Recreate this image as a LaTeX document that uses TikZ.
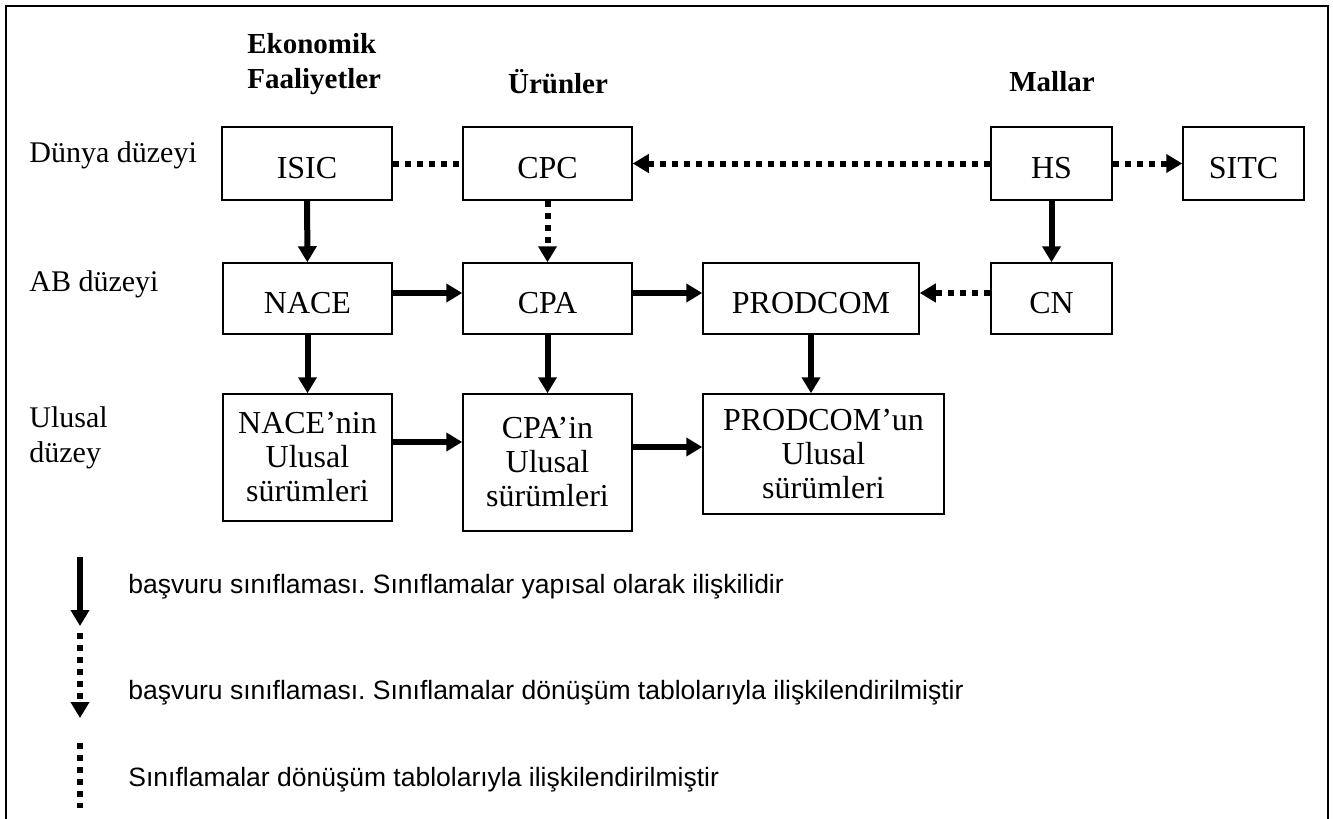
\documentclass[tikz,border=0pt]{standalone}
\usepackage{fontspec}
\setmainfont{Liberation Serif}
\setsansfont{Liberation Sans}
\usetikzlibrary{arrows.meta}

\tikzset{
  cls/.style={draw, line width=0.75pt, inner sep=0pt, align=center,
    font=\fontsize{16}{17}\selectfont},
  one/.style={cls, text height=14.6pt, text depth=0pt},
  lvl/.style={anchor=west, inner sep=0pt, align=left, font=\fontsize{15}{17.5}\selectfont},
  head/.style={inner sep=0pt, align=left, font=\fontsize{14.5}{17.5}\selectfont\bfseries},
  note/.style={anchor=west, inner sep=0pt, font=\sffamily\frenchspacing\fontsize{13.25}{15}\selectfont},
  ref/.style={line width=3pt, -{Triangle[width=9pt,length=8pt]}},
  conv/.style={line width=3pt, dash pattern=on 3pt off 3pt},
  convref/.style={conv, -{Triangle[width=9pt,length=8pt]}},
}

\begin{document}
\begin{tikzpicture}[x=0.5pt, y=-0.5pt]
      \useasboundingbox (0,0) rectangle (1333,819);
      \draw[line width=1pt] (6,819) -- (6,6) -- (1328,6) -- (1328,819);
      % column and row titles
      \draw
        (247,64) node[head, anchor=west] (heco){Ekonomik\\Faaliyetler}
        (558,82) node[head] (hprod){Ürünler}
        (1052,82) node[head] (hgoods){Mallar}
        (29,155) node[lvl] (lworld){Dünya düzeyi}
        (29,284) node[lvl] (leu){AB düzeyi}
        (29,438) node[lvl] (lnat){Ulusal\\düzey};
      % classifications
      \draw
        (307,163.5) node[one, minimum width=85pt, minimum height=36.5pt] (isic){ISIC}
        (547.5,163.5) node[one, minimum width=84.5pt, minimum height=36.5pt] (cpc){CPC}
        (1051.5,163.5) node[one, minimum width=60.5pt, minimum height=36.5pt] (hs){HS}
        (1243.5,163.5) node[one, minimum width=60.5pt, minimum height=36.5pt] (sitc){SITC}
        (307.5,298.5) node[one, minimum width=84.5pt, minimum height=35.5pt] (nace){NACE}
        (547.5,298.5) node[one, minimum width=84.5pt, minimum height=35.5pt] (cpa){CPA}
        (811,298.5) node[one, minimum width=108pt, minimum height=35.5pt] (prodcom){PRODCOM}
        (1051.5,298.5) node[one, minimum width=60.5pt, minimum height=35.5pt] (cn){CN}
        (307.5,457.5) node[cls, minimum width=84.5pt, minimum height=63.5pt] (nacenat){NACE’nin\\Ulusal\\sürümleri}
        (547.5,462.5) node[cls, minimum width=84.5pt, minimum height=68.5pt] (cpanat){CPA’in\\Ulusal\\sürümleri}
        (823.5,454) node[cls, minimum width=120.5pt, minimum height=60pt] (prodnat){PRODCOM’un\\Ulusal\\sürümleri};
      \begin{scope}[ref]
        \draw (isic) to (nace);
        \draw (hs) to (cn);
        \draw (nace) to (nacenat);
        \draw (cpa) to (cpanat);
        \draw (prodcom) to (prodcom.south |- prodnat.north);
        \draw ([yshift=2.75pt]nace.east) to ([yshift=2.75pt]nace.east -| cpa.west);
        \draw ([yshift=2.75pt]cpa.east) to ([yshift=2.75pt]cpa.east -| prodcom.west);
        \draw ([yshift=7.75pt]nacenat.east) to ([yshift=7.75pt]nacenat.east -| cpanat.west);
        \draw ([yshift=7.75pt]cpanat.east) to ([yshift=7.75pt]cpanat.east -| prodnat.west);
      \end{scope}
      \draw[conv] (isic) to (cpc);
      \begin{scope}[convref]
        \draw (hs) to (cpc);
        \draw (hs) to (sitc);
        \draw (cpc) to (cpa);
        \draw ([yshift=2.75pt]cn.west) to ([yshift=2.75pt]cn.west -| prodcom.east);
      \end{scope}
      % legend
      \coordinate (k1a) at (80,557);
      \coordinate (k1b) at (80,626);
      \coordinate (k2a) at (80,633);
      \coordinate (k2b) at (80,718);
      \coordinate (k3a) at (80,743);
      \coordinate (k3b) at (80,808);
      \draw[ref] (k1a) to (k1b);
      \draw[convref] (k2a) to (k2b);
      \draw[conv] (k3a) to (k3b);
      \draw
        (128,587) node[note] (n1){başvuru sınıflaması. Sınıflamalar yapısal olarak ilişkilidir}
        (128,693) node[note] (n2){başvuru sınıflaması. Sınıflamalar dönüşüm tablolarıyla ilişkilendirilmiştir}
        (128,780) node[note] (n3){Sınıflamalar dönüşüm tablolarıyla ilişkilendirilmiştir};
    \end{tikzpicture}
\end{document}
